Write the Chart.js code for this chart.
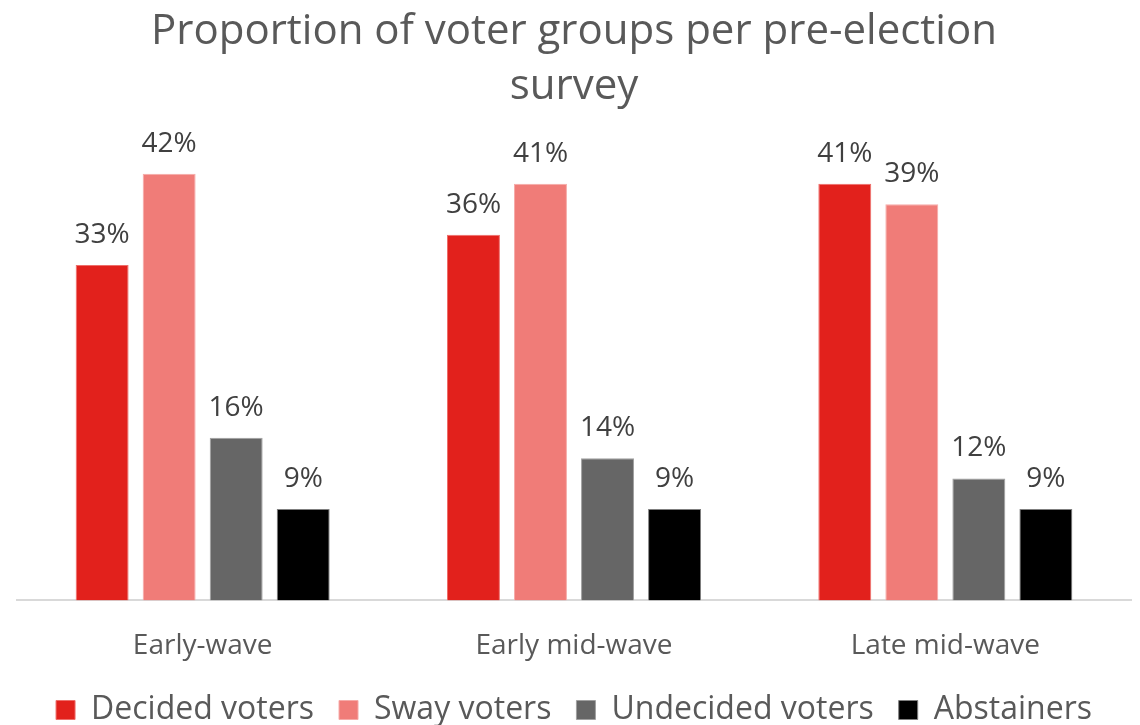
<!DOCTYPE html>
<html>
<head>
<meta charset="utf-8">
<script src="https://cdn.jsdelivr.net/npm/chart.js@4.4.1/dist/chart.umd.min.js"></script>
<style>
  html, body { margin: 0; padding: 0; background: #fff; }
  #wrap { width: 1140px; height: 725px; }
</style>
</head>
<body>
<div id="wrap"><canvas id="chart"></canvas></div>
<script>
// survey waves and the share of each voter group (%)
const waves      = ['Early-wave', 'Early mid-wave', 'Late mid-wave'];
const decided    = [33, 36, 41];
const sway       = [42, 41, 39];
const undecided  = [16, 14, 12];
const abstainers = [9, 9, 9];

const FONT = "'Open Sans', 'Noto Sans', sans-serif";

// value labels drawn above each bar
const barLabels = {
  id: 'barLabels',
  afterDatasetsDraw(chart) {
    const ctx = chart.ctx;
    ctx.save();
    ctx.font = `28px ${FONT}`;
    ctx.fillStyle = '#404040';
    ctx.textAlign = 'center';
    ctx.textBaseline = 'middle';
    chart.data.datasets.forEach((ds, i) => {
      chart.getDatasetMeta(i).data.forEach((bar, j) => {
        ctx.fillText(ds.data[j] + '%', bar.x, bar.y - 30);
      });
    });
    ctx.restore();
  }
};

new Chart(document.getElementById('chart'), {
  type: 'bar',
  data: {
    labels: waves,
    datasets: [
      { label: 'Decided voters',   data: decided,    backgroundColor: '#E2211C', borderColor: '#EE6E6A', borderWidth: 1 },
      { label: 'Sway voters',      data: sway,       backgroundColor: '#F07C78', borderColor: '#F6ABA8', borderWidth: 1 },
      { label: 'Undecided voters', data: undecided,  backgroundColor: '#666666', borderColor: '#A0A0A0', borderWidth: 1 },
      { label: 'Abstainers',       data: abstainers, backgroundColor: '#000000', borderColor: '#7F7F7F', borderWidth: 1 }
    ]
  },
  options: {
    responsive: true,
    maintainAspectRatio: false,
    animation: false,
    layout: { padding: { left: 17, right: 9, top: 0, bottom: -11 } },
    datasets: { bar: { categoryPercentage: 0.722, barPercentage: 0.79 } },
    plugins: {
      title: {
        display: true,
        text: ['Proportion of voter groups per pre-election', 'survey'],
        color: '#595959',
        font: { family: FONT, size: 42, weight: 'normal', lineHeight: 1.3 },
        padding: { top: 5, bottom: 29 }
      },
      legend: {
        position: 'bottom',
        labels: {
          color: '#595959',
          font: { family: FONT, size: 32 },
          boxWidth: 19,
          boxHeight: 19,
          padding: 25
        }
      },
      tooltip: { enabled: false }
    },
    scales: {
      x: {
        grid: { display: false, drawTicks: false },
        border: { color: '#D9D9D9', width: 2 },
        ticks: { color: '#595959', font: { family: FONT, size: 28 }, padding: 29 },
        // pull the category labels a little closer to the legend
        afterFit(scale) { scale.height -= 23; }
      },
      y: {
        display: false,
        min: 0,
        max: 45
      }
    }
  },
  plugins: [barLabels]
});
</script>
</body>
</html>
